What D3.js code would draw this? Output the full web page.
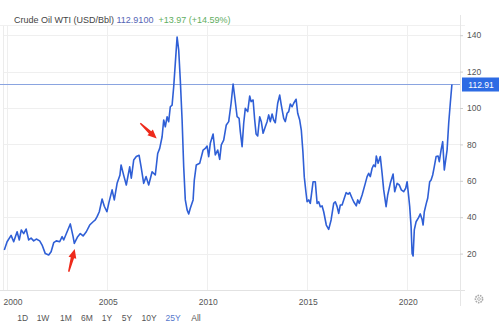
<!DOCTYPE html>
<html><head><meta charset="utf-8">
<script src="https://cdn.jsdelivr.net/npm/d3@7"></script>
<style>html,body{margin:0;padding:0;background:#fff;}svg{display:block;font-family:"Liberation Sans",Arial,sans-serif;}</style>
</head><body>
<script>
const dates = [1999.85,1999.99,2000.19,2000.32,2000.49,2000.60,2000.70,2000.82,2000.94,2001.07,2001.19,2001.32,2001.45,2001.62,2001.74,2001.90,2002.07,2002.19,2002.32,2002.45,2002.62,2002.74,2002.82,2002.99,2003.15,2003.29,2003.35,2003.52,2003.65,2003.79,2003.95,2004.12,2004.29,2004.40,2004.49,2004.60,2004.74,2004.85,2004.98,2005.08,2005.24,2005.35,2005.49,2005.63,2005.69,2005.82,2005.95,2006.12,2006.20,2006.32,2006.45,2006.59,2006.69,2006.82,2006.94,2007.07,2007.24,2007.40,2007.52,2007.62,2007.74,2007.82,2007.90,2007.99,2008.07,2008.15,2008.24,2008.32,2008.40,2008.49,2008.57,2008.65,2008.74,2008.82,2008.90,2008.99,2009.07,2009.15,2009.29,2009.35,2009.45,2009.62,2009.79,2009.90,2009.99,2010.07,2010.15,2010.29,2010.40,2010.52,2010.62,2010.70,2010.82,2010.95,2011.07,2011.19,2011.29,2011.39,2011.49,2011.59,2011.65,2011.74,2011.82,2011.90,2012.02,2012.12,2012.19,2012.29,2012.37,2012.44,2012.52,2012.62,2012.70,2012.79,2012.90,2012.99,2013.07,2013.15,2013.24,2013.32,2013.40,2013.52,2013.62,2013.70,2013.82,2013.90,2013.99,2014.07,2014.15,2014.24,2014.32,2014.44,2014.52,2014.62,2014.70,2014.78,2014.85,2014.93,2014.99,2015.07,2015.15,2015.29,2015.40,2015.49,2015.57,2015.65,2015.74,2015.82,2015.95,2016.07,2016.19,2016.32,2016.40,2016.49,2016.57,2016.65,2016.74,2016.82,2016.94,2017.04,2017.12,2017.24,2017.32,2017.45,2017.52,2017.60,2017.74,2017.90,2017.99,2018.07,2018.15,2018.24,2018.32,2018.40,2018.45,2018.54,2018.65,2018.74,2018.82,2018.94,2019.02,2019.15,2019.29,2019.37,2019.49,2019.60,2019.70,2019.82,2019.92,2019.99,2020.07,2020.12,2020.19,2020.24,2020.29,2020.35,2020.44,2020.57,2020.65,2020.74,2020.79,2020.85,2020.95,2021.02,2021.12,2021.19,2021.27,2021.35,2021.44,2021.54,2021.60,2021.69,2021.77,2021.85,2021.99,2022.07,2022.15,2022.23];
const prices = [22,26.5,30,26.5,32,27.5,33,31,33.5,27.5,28.5,27,28,27,24.7,20,19.2,21,26,27,26.5,29.3,27.5,32,36.3,29.3,25.6,29.3,31,29.7,32,35.7,37.5,38.5,40.3,43,50,46,43,48,55,49.5,58.6,63,68.7,63,57.7,67.7,61.4,71.4,73.3,74,67.7,58.6,62.3,57.7,65,63.2,75,77.8,84.2,93.4,89.7,95.2,92.5,100.7,101.6,111.7,124.5,139,131.9,115.4,93.4,67.7,49.5,44,41.8,44.9,49.5,60.4,68.7,69.6,76.9,77.8,79.1,73.3,80.6,85.7,74.2,76.9,71.8,79.7,82.4,90.7,92.5,102.6,113.2,104.4,95.2,94.3,87,78.8,91.6,99.8,98,106.6,103.5,104.4,93.4,85.7,84.6,95.2,92.5,86.1,89.7,92.5,96.2,92.5,96.7,93.4,91.9,102.6,107.1,101.6,94.3,92.5,97.1,98,102.2,100.7,102.6,104.8,97.1,93.4,87.9,76,62,54,48.5,49.5,47.6,59.5,59.5,47.6,48.5,45.8,46.2,43,35.7,33.3,38.5,47.6,48.5,45.8,42.1,46.7,46.7,49.5,53.5,52.7,53.5,50.4,48.5,46.2,49.5,47.6,52.2,58.6,62.3,64.1,62.3,66.9,68.7,67.8,73.6,69.6,73.3,64.1,55,45.8,52.2,58.6,63.7,54,58.6,57.7,55,54,55.9,59.5,51.3,45.8,34.8,20.1,18.7,33,37.5,39.9,41.8,38.8,35.7,43,47.6,50.4,59.5,60.4,63.2,67.8,73.3,73.6,70.5,77,81.5,65.9,77,91.6,102.6,112.91];
const yTicks = [20,40,60,80,100,120,140];
const xTicks = [2000,2005,2010,2015,2020];
const ranges = ["1D","1W","1M","6M","1Y","5Y","10Y","25Y","All"];
const lastPrice = 112.91;
const title = "Crude Oil WTI (USD/Bbl)";
const priceText = "112.9100";
const changeText = "+13.97 (+14.59%)";
const arrows = [ {from:[2006.65,91.6], to:[2007.47,83.2]}, {from:[2003.07,10], to:[2003.37,22.5]} ];

const W=499,H=326;
const svg=d3.select("body").append("svg").attr("width",W).attr("height",H);
const x=d3.scaleLinear().domain([2000,2022.5]).range([7.3,457.3]);
const y=d3.scaleLinear().domain([0,140]).range([290,35.2]);
const pLeft=3,pRight=460,pTop=25,pBottom=290;

// grid
const g=svg.append("g");
g.selectAll(".hg").data(yTicks).enter().append("line")
 .attr("x1",pLeft).attr("x2",pRight).attr("y1",d=>Math.round(y(d))+0.5).attr("y2",d=>Math.round(y(d))+0.5)
 .attr("stroke","#efefef");
g.selectAll(".vg").data(xTicks).enter().append("line")
 .attr("x1",d=>Math.round(x(d))+0.5).attr("x2",d=>Math.round(x(d))+0.5).attr("y1",pTop).attr("y2",pBottom)
 .attr("stroke","#efefef");
// frame
svg.append("line").attr("x1",pLeft+0.5).attr("x2",pLeft+0.5).attr("y1",pTop).attr("y2",pBottom).attr("stroke","#ececec");
svg.append("line").attr("x1",0).attr("x2",465).attr("y1",pTop+0.5).attr("y2",pTop+0.5).attr("stroke","#f0f0f0");
svg.append("line").attr("x1",0).attr("x2",465).attr("y1",pBottom+0.5).attr("y2",pBottom+0.5).attr("stroke","#e2e2e2");
svg.append("line").attr("x1",pRight+0.5).attr("x2",pRight+0.5).attr("y1",pTop-10).attr("y2",306).attr("stroke","#e6e6e6");

// y axis
const ya=svg.append("g").attr("transform",`translate(${pRight},0)`)
 .call(d3.axisRight(y).tickValues(yTicks).tickSize(3).tickPadding(4));
ya.select(".domain").remove();
ya.selectAll(".tick line").attr("stroke","#cfcfcf");
ya.selectAll(".tick text").attr("fill","#555").style("font-size","8.5px").style("font-family","'Liberation Sans',Arial,sans-serif");

// x axis labels
const xa=svg.append("g").attr("transform",`translate(0,${pBottom})`)
 .call(d3.axisBottom(x).tickValues(xTicks).tickFormat(d3.format("d")).tickSize(0).tickPadding(9));
xa.select(".domain").remove();
xa.selectAll(".tick text").attr("fill","#555").style("font-size","8.5px").style("font-family","'Liberation Sans',Arial,sans-serif")
 .attr("text-anchor",d=>d===2000?"start":"middle").attr("dx",d=>d===2000?"-4.3":"0.5");

// last price line
svg.append("line").attr("x1",0).attr("x2",pRight).attr("y1",y(lastPrice)).attr("y2",y(lastPrice))
 .attr("stroke","#8aa4e0").attr("stroke-width",1);

// series line
const data=dates.map((d,i)=>({t:d,v:prices[i]}));
svg.append("path").datum(data)
 .attr("d",d3.line().x(d=>x(d.t)).y(d=>y(d.v)).curve(d3.curveLinear))
 .attr("fill","none").attr("stroke","#2f5fd6").attr("stroke-width",1.6).attr("stroke-linejoin","round");

// price label
svg.append("rect").attr("x",462).attr("y",y(lastPrice)-7).attr("width",37).attr("height",14).attr("fill","#2d6be4");
svg.append("text").attr("x",481).attr("y",y(lastPrice)+3).attr("text-anchor","middle")
 .attr("fill","#fff").style("font-size","8.5px").text(lastPrice.toFixed(2));

// arrows
arrows.forEach(a=>{
  const x0=x(a.from[0]),y0=y(a.from[1]),x1=x(a.to[0]),y1=y(a.to[1]);
  const dx=x1-x0,dy=y1-y0,L=Math.hypot(dx,dy),ux=dx/L,uy=dy/L,px=-uy,py=ux;
  const hl=9,hw=4,sw0=0.7,sw1=1.7;
  const bx=x1-ux*hl,by=y1-uy*hl;
  const pts=[[x0+px*sw0,y0+py*sw0],[bx+px*sw1,by+py*sw1],[bx+px*hw,by+py*hw],[x1,y1],[bx-px*hw,by-py*hw],[bx-px*sw1,by-py*sw1],[x0-px*sw0,y0-py*sw0]];
  svg.append("path").attr("d","M"+pts.map(p=>p.join(",")).join("L")+"Z").attr("fill","#ee2a1b");
});

// header
const t=svg.append("text").attr("x",14).attr("y",23).style("font-size","9px");
t.append("tspan").attr("fill","#444").text(title+" ");
t.append("tspan").attr("fill","#5566b5").text(priceText);
t.append("tspan").attr("fill","#5fae5f").attr("dx",5).text(changeText);

// range buttons
const rx=[22.7,43,66,87,107,127,149,173,196];
svg.selectAll(".rb").data(ranges).enter().append("text")
 .attr("x",(d,i)=>rx[i]).attr("y",320.5).attr("text-anchor","middle")
 .attr("fill",d=>d==="25Y"?"#5577cc":"#555").style("font-size","8.5px").text(d=>d);

// gear icon
const gear=svg.append("g").attr("transform","translate(479,299)");
gear.append("circle").attr("r",3.6).attr("fill","none").attr("stroke","#aaa").attr("stroke-width",1.6).attr("stroke-dasharray","1.6,0.9");
gear.append("circle").attr("r",1.4).attr("fill","none").attr("stroke","#aaa").attr("stroke-width",0.8);
</script>
</body></html>
